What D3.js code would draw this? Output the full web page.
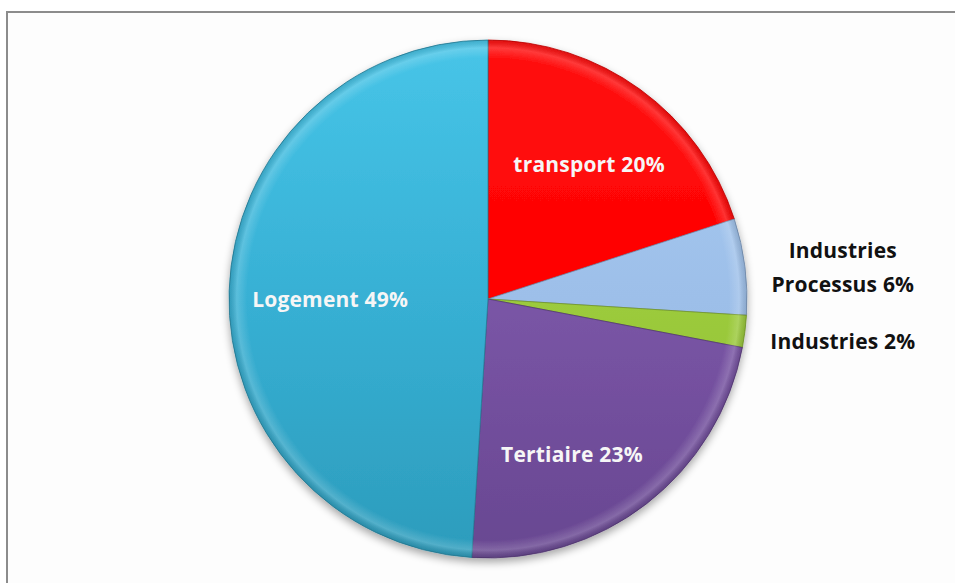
<!DOCTYPE html>
<html>
<head>
<meta charset="utf-8">
<script src="https://cdn.jsdelivr.net/npm/d3@7"></script>
<style>
  body { margin: 0; background: #fff; }
  svg { display: block; }
  .lbl { font-family: "Open Sans", Lato, sans-serif; font-weight: bold; font-size: 21px; letter-spacing: 0.2px; }
</style>
</head>
<body>
<div id="chart"></div>
<script>
// slices, clockwise from 12 o'clock
var categories = ["transport", "Industries Processus", "Industries", "Tertiaire", "Logement"];
var values = [20, 6, 2, 23, 49];
var labels = ["transport 20%", "Industries|Processus 6%", "Industries 2%", "Tertiaire 23%", "Logement 49%"];

var width = 955, height = 583;
var cx = 488, cy = 299, radius = 259;

var color = d3.scaleOrdinal()
    .domain(categories)
    .range(["#ff0000", "#9dbfe9", "#9ccb3c", "#7a55a6", "#37b0d4"]);
var colorTop = d3.scaleOrdinal()
    .domain(categories)
    .range(["#ff1010", "#a9cdf3", "#a6d648", "#8461b0", "#47c5e8"]);
var colorBottom = d3.scaleOrdinal()
    .domain(categories)
    .range(["#f20000", "#8fb0da", "#8cba30", "#684791", "#2c9cbc"]);

var svg = d3.select("#chart").append("svg")
    .attr("width", width)
    .attr("height", height);

var defs = svg.append("defs");

// soft shadow under the pie
var shadow = defs.append("filter").attr("id", "shadow")
    .attr("x", "-20%").attr("y", "-20%").attr("width", "140%").attr("height", "140%");
shadow.append("feGaussianBlur").attr("in", "SourceAlpha").attr("stdDeviation", 4);
shadow.append("feOffset").attr("dx", 0).attr("dy", 4).attr("result", "ob");
shadow.append("feComponentTransfer").append("feFuncA").attr("type", "linear").attr("slope", 0.35);
var merge = shadow.append("feMerge");
merge.append("feMergeNode");
merge.append("feMergeNode").attr("in", "SourceGraphic");

categories.forEach(function(c, i){
    var g = defs.append("linearGradient")
        .attr("id", "grad" + i)
        .attr("gradientUnits", "userSpaceOnUse")
        .attr("x1", 0).attr("y1", -radius)
        .attr("x2", 0).attr("y2", radius);
    g.append("stop").attr("offset", "0%").attr("stop-color", colorTop(c));
    g.append("stop").attr("offset", "50%").attr("stop-color", color(c));
    g.append("stop").attr("offset", "100%").attr("stop-color", colorBottom(c));
});

// rim highlight for the bevel look
var rim = defs.append("radialGradient").attr("id", "rim")
    .attr("gradientUnits", "userSpaceOnUse")
    .attr("cx", 0).attr("cy", 0).attr("r", radius);
rim.append("stop").attr("offset", "93%").attr("stop-color", "#fff").attr("stop-opacity", 0);
rim.append("stop").attr("offset", "97%").attr("stop-color", "#fff").attr("stop-opacity", 0.18);
rim.append("stop").attr("offset", "100%").attr("stop-color", "#000").attr("stop-opacity", 0.12);

// frame
svg.append("rect")
    .attr("x", 7).attr("y", 12)
    .attr("width", width + 10).attr("height", height + 10)
    .attr("fill", "#fdfdfd")
    .attr("stroke", "#8c8c8c")
    .attr("stroke-width", 2);

var pie = d3.pie().sort(null).value(function(d){ return d; });
var arcs = pie(values);

var arc = d3.arc().innerRadius(0).outerRadius(radius);

var g = svg.append("g")
    .attr("transform", "translate(" + cx + "," + cy + ")");

var slices = g.append("g").attr("filter", "url(#shadow)");

slices.selectAll("path.slice")
    .data(arcs)
    .enter().append("path")
    .attr("class", "slice")
    .attr("d", arc)
    .attr("fill", function(d, i){ return "url(#grad" + i + ")"; })
    .attr("stroke", function(d, i){ return d3.color(colorBottom(categories[i])).darker(0.6); })
    .attr("stroke-width", 0.8)
    .attr("stroke-linejoin", "round");

slices.selectAll("path.rim")
    .data(arcs)
    .enter().append("path")
    .attr("class", "rim")
    .attr("d", arc)
    .attr("fill", "url(#rim)");

// label placement: radius for inside labels, a small angle shift (rad) like Excel does
var labelRadius = [172, 0, 0, 172, 158];
var labelShift = [0, 0, 0, 0.15, 0];

arcs.forEach(function(d, i){
    var small = values[i] < 10;
    var lines = labels[i].split("|");
    var x, y;
    var mid = (d.startAngle + d.endAngle) / 2;
    if (!small) {
        var a = mid + labelShift[i];
        x = Math.sin(a) * labelRadius[i];
        y = -Math.cos(a) * labelRadius[i];
    } else {
        x = radius * 1.37;
        y = -Math.cos(mid) * radius * (i === 1 ? 0.8 : 1.6) - (i === 1 ? 11 : 15);
    }
    var t = g.append("text")
        .attr("class", "lbl")
        .attr("text-anchor", "middle")
        .attr("fill", small ? "#111" : "#f6f6f6")
        .attr("x", x)
        .attr("y", y - (lines.length - 1) * 17);
    lines.forEach(function(l, j){
        t.append("tspan")
            .attr("x", x)
            .attr("dy", j === 0 ? "0.6em" : 34)
            .text(l);
    });
});
</script>
</body>
</html>
